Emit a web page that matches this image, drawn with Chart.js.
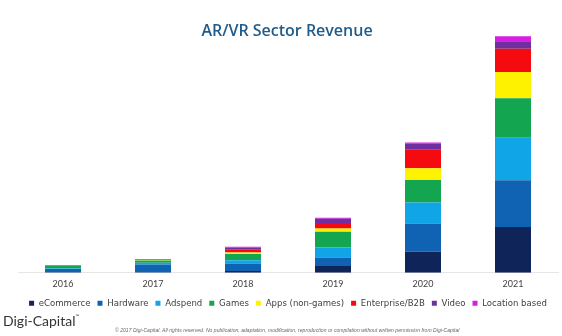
<!DOCTYPE html>
<html>
<head>
<meta charset="utf-8">
<script src="https://cdn.jsdelivr.net/npm/chart.js@4.4.1/dist/chart.umd.min.js"></script>
<style>
  html, body { margin: 0; padding: 0; background: #ffffff; }
  #wrap { position: relative; width: 562px; height: 336px; overflow: hidden; }
  #c { position: absolute; left: 0; top: 0; }
  #title { position: absolute; left: 0; width: 574px; top: 19px; text-align: center;
           font-family: "Open Sans", sans-serif; font-weight: 600; font-size: 16px; color: #1f5c8c; }
  #logo { position: absolute; left: 3px; top: 312px; font-family: "Lato", sans-serif; font-size: 14px; color: #333; }
  #logo sup { font-size: 5px; vertical-align: 8px; }
  #copy { position: absolute; left: 115px; top: 327px; font-family: "Liberation Sans", sans-serif; font-style: italic;
          font-size: 5px; letter-spacing: 0.05px; color: #666; white-space: nowrap; }
</style>
</head>
<body>
<div id="wrap">
  <canvas id="c" width="562" height="336"></canvas>
  <div id="title">AR/VR Sector Revenue</div>
  <div id="logo">Digi-Capital<sup>™</sup></div>
  <div id="copy">© 2017 Digi-Capital. All rights reserved. No publication, adaptation, modification, reproduction or compilation without written permission from Digi-Capital</div>
</div>
<script>
const years = ['2016', '2017', '2018', '2019', '2020', '2021'];
const eCommerce     = [0.05, 0.1, 0.8, 3.1, 9.6, 20.9];
const hardware      = [1.6, 3.7, 3.4, 3.8, 12.9, 21.4];
const adspend       = [0.3, 0.8, 1.5, 4.6, 9.6, 19.4];
const games         = [1.4, 1.0, 2.8, 7.2, 10.3, 18.1];
const apps          = [0.03, 0.15, 0.7, 1.5, 5.3, 11.9];
const enterprise    = [0.03, 0.2, 1.5, 2.5, 8.7, 10.7];
const video         = [0.03, 0.2, 0.8, 2.0, 2.6, 3.4];
const locationBased = [0.01, 0.05, 0.4, 0.4, 0.5, 2.3];

const seriesNames = ['eCommerce', 'Hardware', 'Adspend', 'Games', 'Apps (non-games)', 'Enterprise/B2B', 'Video', 'Location based'];
const seriesData = [eCommerce, hardware, adspend, games, apps, enterprise, video, locationBased];
const seriesColors = ['#0f2459', '#1063b2', '#0fa5e6', '#14a550', '#fff200', '#f50a0f', '#6f2fa0', '#d81ee0'];

new Chart(document.getElementById('c'), {
  type: 'bar',
  data: {
    labels: years,
    datasets: seriesNames.map((n, i) => ({
      label: n,
      data: seriesData[i],
      backgroundColor: seriesColors[i],
      borderWidth: 0,
      barPercentage: 0.4,
      categoryPercentage: 1.0
    }))
  },
  options: {
    responsive: false,
    animation: false,
    layout: { padding: { left: 18, right: 4, top: 36, bottom: 18 } },
    plugins: {
      title: { display: false },
      tooltip: { enabled: false },
      legend: {
        position: 'bottom',
        labels: {
          font: { family: "'DejaVu Sans Condensed', sans-serif", size: 9.5 },
          color: '#404040',
          boxWidth: 5, boxHeight: 5,
          padding: 7
        }
      }
    },
    scales: {
      x: {
        stacked: true,
        grid: { display: false, drawTicks: false },
        border: { display: true, color: '#e6e6e6', width: 1 },
        ticks: { color: '#404040', font: { family: "Lato, sans-serif", size: 9 }, padding: 6 },
        afterFit(axis) { axis.height -= 4; }
      },
      y: {
        stacked: true,
        display: false,
        min: 0, max: 108.2
      }
    }
  }
});
</script>
</body>
</html>
